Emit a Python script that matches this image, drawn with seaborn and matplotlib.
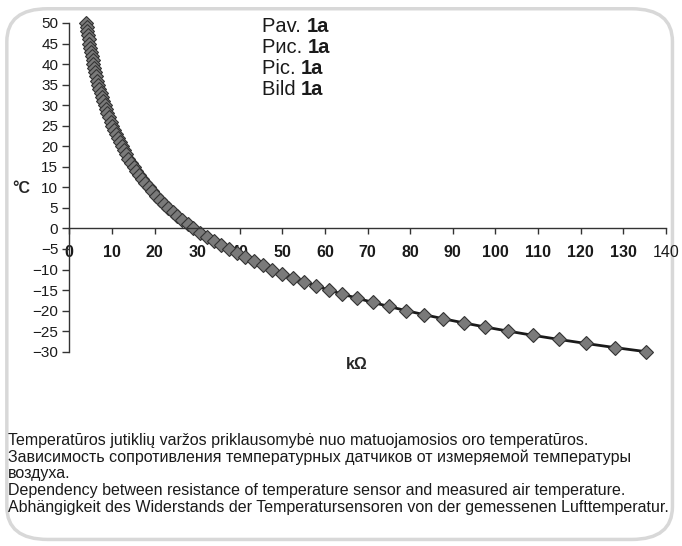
import matplotlib
matplotlib.use("Agg")
import matplotlib.pyplot as plt
from matplotlib.patches import FancyBboxPatch
import seaborn as sns
import pandas as pd

# temperature points, 50 .. -30 degC
temps = list(range(50, -31, -1))

# resistance, kOhm (same order as temps)
res_hot = [3.96, 4.10, 4.25, 4.40, 4.56, 4.72, 4.89, 5.07, 5.26, 5.46,
           5.66, 5.87, 6.09, 6.32, 6.57, 6.82, 7.08, 7.36, 7.65, 7.95,
           8.27, 8.60, 8.95, 9.31, 9.69, 10.09]              # 50 .. 25
res_mid = [10.49, 10.91, 11.35, 11.81, 12.29, 12.80, 13.33, 13.88, 14.47,
           15.08, 15.72, 16.39, 17.10, 17.85, 18.63, 19.45, 20.31, 21.22,
           22.18, 23.19, 24.25, 25.37, 26.55, 27.79, 29.10]  # 24 .. 0
res_cold = [30.6, 32.2, 33.9, 35.7, 37.5, 39.4, 41.3, 43.3, 45.4, 47.6,
            49.9, 52.4, 55.1, 57.9, 60.9, 64.1, 67.6, 71.2, 75.0, 79.0,
            83.3, 87.8, 92.6, 97.6, 103.0, 108.7, 114.8, 121.2, 128.0, 135.3]  # -1 .. -30

x_ticks = list(range(0, 141, 10))
y_ticks = list(range(-30, 51, 5))

fig_labels = ["Pav.", "Рис.", "Pic.", "Bild"]
caption = [
    "Temperatūros jutiklių varžos priklausomybė nuo matuojamosios oro temperatūros.",
    "Зависимость сопротивления температурных датчиков от измеряемой температуры",
    "воздуха.",
    "Dependency between resistance of temperature sensor and measured air temperature.",
    "Abhängigkeit des Widerstands der Temperatursensoren von der gemessenen Lufttemperatur.",
]

df = pd.DataFrame({"R": res_hot + res_mid + res_cold, "T": temps})

sns.set_theme(style="white")
plt.rcParams["font.family"] = ["Liberation Sans", "DejaVu Sans"]

fig = plt.figure(figsize=(6.82, 5.46), dpi=100)

# rounded frame around everything
frame = FancyBboxPatch((0.010, 0.012), 0.976, 0.972,
                       boxstyle="round,pad=0,rounding_size=0.06",
                       transform=fig.transFigure, fc="white",
                       ec="#d8d8d8", lw=2.5, zorder=-5)
fig.patches.append(frame)

ax = fig.add_axes([0.1016, 0.3559, 0.8749, 0.602])
ax.patch.set_alpha(0)
ax.set_zorder(2)

sns.lineplot(data=df, x="R", y="T", ax=ax, sort=False, color="#1a1a1a",
             lw=2.0, marker="D", markersize=7, markerfacecolor="#7a7a7a",
             markeredgecolor="#333333", markeredgewidth=0.8, clip_on=False)

ax.set_xlim(0, 140)
ax.set_ylim(-30, 50)
ax.set_xticks(x_ticks)
ax.set_yticks(y_ticks)
ax.set_xlabel("")
ax.set_ylabel("")

for s in ["top", "right"]:
    ax.spines[s].set_visible(False)
ax.spines["bottom"].set_position(("data", 0))
for s in ["left", "bottom"]:
    ax.spines[s].set_color("#333333")
    ax.spines[s].set_linewidth(1.0)

ax.tick_params(axis="y", direction="out", length=5, width=1, color="#333333",
               pad=3, labelsize=11, labelcolor="#1a1a1a", left=True)
ax.tick_params(axis="x", direction="out", length=4, width=1, color="#333333",
               pad=8, labelsize=11.5, labelcolor="#1a1a1a", bottom=True)
ax.set_xticklabels([str(v) for v in x_ticks])
for lab in ax.get_xticklabels()[:-1]:
    lab.set_fontweight("bold")

fig.text(0.0315, 0.655, "°C", fontsize=11.5, fontweight="bold", ha="center", va="center")
fig.text(0.523, 0.332, "kΩ", fontsize=11.5, fontweight="bold", ha="center", va="center")

fig.canvas.draw()
for i, name in enumerate(fig_labels):
    y = 0.951 - i * 0.0385
    t = fig.text(0.384, y, name + " ", fontsize=14.5, ha="left", va="center", color="#1a1a1a")
    bb = t.get_window_extent(renderer=fig.canvas.get_renderer())
    x1 = bb.x1 / fig.bbox.width
    fig.text(x1, y, "1a", fontsize=14.5, fontweight="bold", ha="left", va="center", color="#1a1a1a")

for i, line in enumerate(caption):
    fig.text(0.011, 0.194 - i * 0.0307, line, fontsize=11.55, ha="left", va="center",
             color="#1a1a1a")

fig.savefig("out.png", dpi=100)
